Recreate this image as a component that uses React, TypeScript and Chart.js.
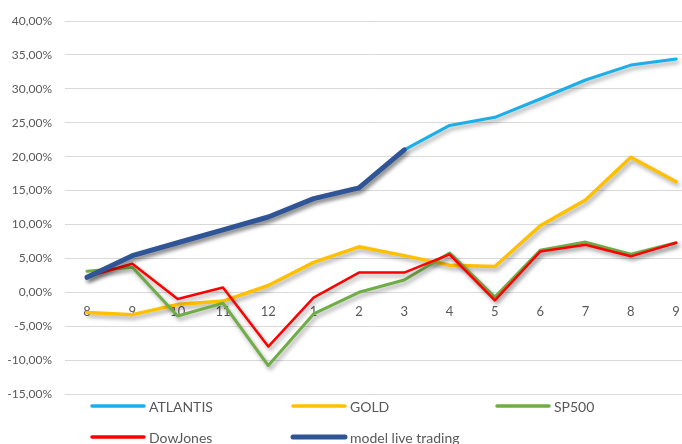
import React, { useEffect, useRef } from 'react';
import { Chart, registerables } from 'chart.js';
Chart.register(...registerables);

const categories = ['8', '9', '10', '11', '12', '1', '2', '3', '4', '5', '6', '7', '8', '9'];
const atlantis = [2.2, 5.4, 7.3, 9.2, 11.1, 13.8, 15.4, 21.0, 24.6, 25.8, 28.5, 31.3, 33.5, 34.4];
const gold = [-3.0, -3.3, -1.8, -1.3, 1.0, 4.4, 6.7, 5.4, 4.0, 3.8, 9.8, 13.6, 19.9, 16.3];
const sp500 = [3.1, 3.7, -3.5, -1.6, -10.8, -3.2, 0.0, 1.8, 5.8, -0.7, 6.2, 7.4, 5.6, 7.3];
const dowJones = [2.3, 4.2, -1.0, 0.7, -8.0, -0.8, 2.9, 2.9, 5.6, -1.2, 6.0, 7.0, 5.3, 7.3];
const modelLive: (number | null)[] = [2.2, 5.4, 7.3, 9.2, 11.1, 13.8, 15.4, 21.0, null, null, null, null, null, null];

const seriesNames = ['ATLANTIS', 'GOLD', 'SP500', 'DowJones', 'model live trading'];
const seriesColors = ['#1AAFEA', '#FFC000', '#70AD47', '#FF0000', '#2F5597'];
const seriesData = [atlantis, gold, sp500, dowJones, modelLive];
const seriesWidths = [3, 3.5, 3, 2.5, 5];

const yMin = -15;
const yMax = 40;
const yStep = 5;

const shadowPlugin = {
  id: 'lineShadow',
  beforeDatasetDraw(chart: any) {
    const ctx = chart.ctx;
    ctx.save();
    ctx.shadowColor = 'rgba(0,0,0,0.35)';
    ctx.shadowBlur = 4;
    ctx.shadowOffsetX = 2;
    ctx.shadowOffsetY = 3;
  },
  afterDatasetDraw(chart: any) {
    chart.ctx.restore();
  },
};

const legendPlugin = {
  id: 'gridLegend',
  afterDraw(chart: any) {
    const ctx = chart.ctx;
    const colX = [92, 293, 497];
    const rowY = [406, 437];
    ctx.save();
    chart.data.datasets.forEach((ds: any, i: number) => {
      const x = colX[i % 3];
      const y = rowY[Math.floor(i / 3)];
      ctx.strokeStyle = ds.borderColor;
      ctx.lineWidth = i === 4 ? 5 : 3.5;
      ctx.lineCap = 'round';
      ctx.beginPath();
      ctx.moveTo(x, y);
      ctx.lineTo(x + 52, y);
      ctx.stroke();
      ctx.fillStyle = '#595959';
      ctx.font = '14px Lato';
      ctx.textBaseline = 'middle';
      ctx.textAlign = 'left';
      ctx.fillText(ds.label, x + 57, y + 1);
    });
    ctx.restore();
  },
};

export default function App() {
  const ref = useRef<HTMLCanvasElement>(null);
  useEffect(() => {
    const chart = new Chart(ref.current!, {
      type: 'line',
      data: {
        datasets: seriesNames.map((name, i) => ({
          label: name,
          data: seriesData[i].map((v, j) => ({ x: j, y: v })),
          borderColor: seriesColors[i],
          backgroundColor: seriesColors[i],
          borderWidth: seriesWidths[i],
          pointRadius: 0,
          tension: 0,
          borderCapStyle: 'round',
          borderJoinStyle: 'round',
          spanGaps: false,
          order: seriesNames.length - 1 - i,
        })),
      },
      options: {
        animation: false,
        responsive: false,
        layout: { padding: { top: 21, bottom: 50, left: 0, right: 0 } },
        plugins: { legend: { display: false }, tooltip: { enabled: false } },
        scales: {
          x: {
            type: 'linear',
            position: { y: 0 },
            min: -0.486,
            max: 13.13,
            afterBuildTicks(scale: any) {
              scale.ticks = categories.map((_, i) => ({ value: i }));
            },
            ticks: {
              callback: (v: any) => categories[v] ?? '',
              color: '#595959',
              font: { family: 'Lato', size: 13 },
              padding: 0,
              maxRotation: 0,
              autoSkip: false,
            },
            grid: { display: false, drawTicks: true, tickLength: 12 },
            border: { display: false },
          },
          y: {
            min: yMin,
            max: yMax,
            afterFit(scale: any) {
              scale.width = 65;
            },
            ticks: {
              stepSize: yStep,
              callback: (v: any) => Number(v).toFixed(2).replace('.', ',') + '%',
              color: '#595959',
              font: { family: 'Lato', size: 12 },
              padding: 13,
            },
            grid: { color: '#D9D9D9', lineWidth: 1, drawTicks: false },
            border: { display: false },
          },
        },
      },
      plugins: [shadowPlugin, legendPlugin],
    } as any);
    return () => chart.destroy();
  }, []);
  return (
    <div style={{ position: 'fixed', left: 0, top: 0, width: 682, height: 444, background: '#fff' }}>
      <canvas ref={ref} width={682} height={444} />
    </div>
  );
}
